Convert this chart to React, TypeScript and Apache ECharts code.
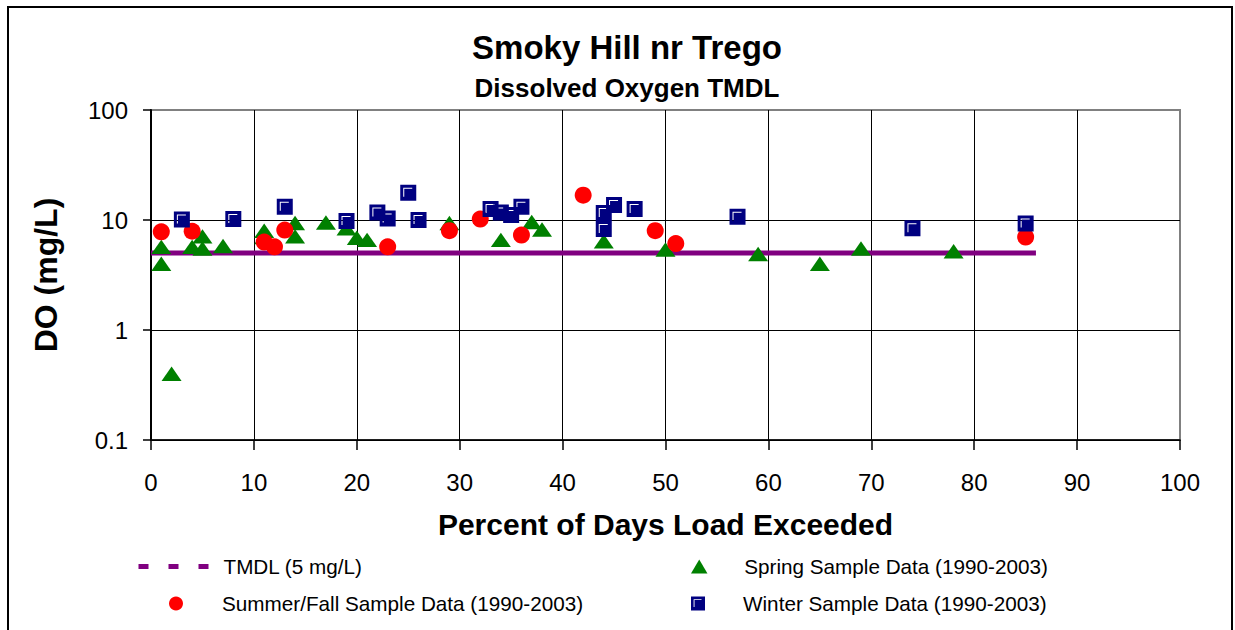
import React, { useEffect, useRef } from "react";
import * as echarts from "echarts";

const FONT = "'Liberation Sans', Arial, sans-serif";

const titleText = "Smoky Hill nr Trego";
const subtitleText = "Dissolved Oxygen TMDL";
const xAxisName = "Percent of Days Load Exceeded";
const yAxisName = "DO (mg/L)";

const tmdlName = "TMDL (5 mg/L)";
const springName = "Spring Sample Data (1990-2003)";
const summerName = "Summer/Fall Sample Data (1990-2003)";
const winterName = "Winter Sample Data (1990-2003)";

const tmdlX = [0, 86];
const tmdlY = [5, 5];

const springX = [1, 1, 2, 4, 5, 5, 7, 11, 11, 14, 14, 17, 19, 20, 21, 29, 34, 37, 38, 44, 50, 59, 65, 69, 78];
const springY = [5.7, 4.0, 0.4, 5.7, 7.1, 5.5, 5.8, 8.0, 7.0, 9.4, 7.1, 9.5, 8.4, 6.9, 6.6, 9.4, 6.6, 9.6, 8.2, 6.4, 5.4, 4.9, 4.0, 5.5, 5.2];

const summerX = [1, 4, 11, 12, 13, 23, 29, 32, 36, 42, 49, 51, 85];
const summerY = [7.8, 7.9, 6.3, 5.7, 8.1, 5.7, 8.0, 10.2, 7.3, 16.8, 8.0, 6.1, 7.0];

const winterX = [3, 8, 13, 19, 22, 23, 25, 26, 33, 34, 35, 36, 44, 44, 45, 47, 57, 74, 85];
const winterY = [10.1, 10.2, 13.2, 9.8, 11.7, 10.3, 17.7, 10.0, 12.6, 11.7, 11.1, 13.2, 11.6, 8.3, 13.7, 12.6, 10.7, 8.4, 9.3];

const xMin = 0;
const xMax = 100;
const xInterval = 10;
const yMin = 0.1;
const yMax = 100;

const TRIANGLE = "path://M10,0 L20,17 L0,17 Z";
const SQUARE = "path://M0,0 L16,0 L16,16 L0,16 Z M3,3 L3,12 L4,12 L4,4 L12,4 L12,3 Z";

const pairs = (xs: number[], ys: number[]) => xs.map((x, i) => [x, ys[i]]);

export default function App() {
  const ref = useRef<HTMLDivElement>(null);

  useEffect(() => {
    if (!ref.current) return;
    const chart = echarts.init(ref.current, null, { renderer: "svg" });

    const xLineCount = Math.round((xMax - xMin) / xInterval) + 1;
    const xSplitColors = Array.from({ length: xLineCount }, (_, i) => (i === xLineCount - 1 ? "#808080" : "#000000"));

    const legendText = { fontFamily: FONT, fontSize: 20.7, color: "#000", lineHeight: 14 };
    const legendBase = {
      orient: "horizontal",
      padding: 0,
      itemHeight: 14,
      selectedMode: false,
      symbolKeepAspect: true,
      textStyle: legendText,
    };

    chart.setOption({
      animation: false,
      backgroundColor: "#ffffff",
      textStyle: { fontFamily: FONT },
      title: [
        {
          text: titleText,
          left: 627,
          top: 31,
          padding: 0,
          textAlign: "center",
          textStyle: { fontFamily: FONT, fontSize: 33, fontWeight: "bold", color: "#000", lineHeight: 33 },
        },
        {
          text: subtitleText,
          left: 627,
          top: 75,
          padding: 0,
          textAlign: "center",
          textStyle: { fontFamily: FONT, fontSize: 26, fontWeight: "bold", color: "#000", lineHeight: 26 },
        },
      ],
      legend: [
        {
          ...legendBase,
          data: [tmdlName],
          left: 136,
          top: 556,
          itemWidth: 80,
          lineStyle: { type: [10, 20], width: 5, color: "#800080", opacity: 1 },
          itemStyle: { color: "rgba(0,0,0,0)", borderColor: "rgba(0,0,0,0)", borderWidth: 0, opacity: 0 },
        },
        { ...legendBase, data: [summerName], left: 169, top: 593, itemWidth: 82 },
        { ...legendBase, data: [springName], left: 691, top: 556, itemWidth: 80 },
        { ...legendBase, data: [winterName], left: 691, top: 593, itemWidth: 80 },
      ],
      grid: {
        left: 151,
        top: 110,
        width: 1029,
        height: 330,
        show: true,
        borderColor: "#808080",
        borderWidth: 2,
        backgroundColor: "transparent",
        containLabel: false,
      },
      xAxis: {
        type: "value",
        min: xMin,
        max: xMax,
        interval: xInterval,
        name: xAxisName,
        nameLocation: "middle",
        nameGap: 69,
        nameTextStyle: { fontFamily: FONT, fontSize: 30, fontWeight: "bold", color: "#000" },
        axisLine: { show: true, onZero: false, lineStyle: { color: "#000", width: 1.5 } },
        axisTick: { show: true, inside: false, length: 10, lineStyle: { color: "#000", width: 1.5 } },
        axisLabel: { fontFamily: FONT, fontSize: 24, color: "#000", margin: 30 },
        splitLine: { show: true, lineStyle: { color: xSplitColors, width: 1 } },
      },
      yAxis: {
        type: "log",
        logBase: 10,
        min: yMin,
        max: yMax,
        name: yAxisName,
        nameLocation: "middle",
        nameRotate: 90,
        nameGap: 89,
        nameTextStyle: { fontFamily: FONT, fontSize: 32, fontWeight: "bold", color: "#000" },
        axisLine: { show: true, onZero: false, lineStyle: { color: "#000", width: 2 } },
        axisTick: { show: true, inside: false, length: 8, lineStyle: { color: "#000", width: 1.5 } },
        axisLabel: {
          fontFamily: FONT,
          fontSize: 24,
          color: "#000",
          margin: 23,
          formatter: (v: number) => (v < 1 ? v.toFixed(1) : String(Math.round(v))),
        },
        splitLine: { show: true, lineStyle: { color: ["#000", "#000", "#000", "#808080"], width: 1 } },
      },
      graphic: [
        {
          type: "rect",
          shape: { x: 8, y: 7, width: 1224, height: 700 },
          style: { fill: "none", stroke: "#000", lineWidth: 2 },
          silent: true,
          z: 100,
        },
      ],
      series: [
        {
          name: tmdlName,
          type: "line",
          data: pairs(tmdlX, tmdlY),
          symbol: "none",
          lineStyle: { color: "#800080", width: 5 },
          itemStyle: { color: "#800080" },
          z: 2,
        },
        {
          name: springName,
          type: "scatter",
          data: pairs(springX, springY),
          symbol: TRIANGLE,
          symbolSize: [20, 17],
          symbolKeepAspect: true,
          itemStyle: { color: "#008000", opacity: 1 },
          z: 3,
        },
        {
          name: summerName,
          type: "scatter",
          data: pairs(summerX, summerY),
          symbol: "circle",
          symbolSize: 17,
          itemStyle: { color: "#ff0000", opacity: 1 },
          z: 4,
        },
        {
          name: winterName,
          type: "scatter",
          data: pairs(winterX, winterY),
          symbol: SQUARE,
          symbolSize: 16,
          symbolKeepAspect: true,
          itemStyle: { color: "#000080", opacity: 1 },
          z: 5,
        },
      ],
    });

    return () => chart.dispose();
  }, []);

  return (
    <div
      ref={ref}
      style={{ position: "absolute", left: 0, top: 0, width: 1235, height: 630, background: "#fff" }}
    />
  );
}
